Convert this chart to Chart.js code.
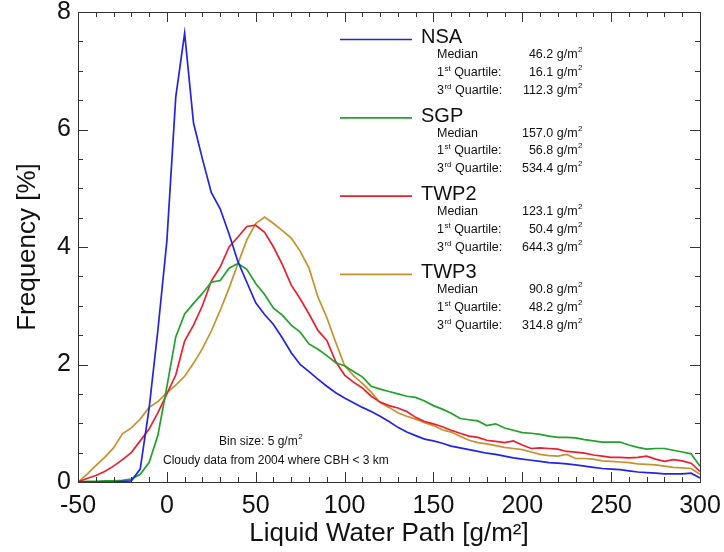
<!DOCTYPE html>
<html><head><meta charset="utf-8">
<script src="https://cdn.jsdelivr.net/npm/chart.js@4"></script>
<style>html,body{margin:0;padding:0;background:#fff}#wrap{width:724px;height:552px;position:relative}</style>
</head><body><div id="wrap"><canvas id="c" width="724" height="552"></canvas></div>
<script>
// Liquid water path bins (g/m2)
const lwpBins = [-50,-45,-40,-35,-30,-25,-20,-15,-10,-5,
  0,5,10,15,20,25,30,35,40,45,
  50,55,60,65,70,75,80,85,90,95,
  100,105,110,115,120,125,130,135,140,145,
  150,155,160,165,170,175,180,185,190,195,
  200,205,210,215,220,225,230,235,240,245,
  250,255,260,265,270,275,280,285,290,295,
  300];
// Frequency [%]
const nsaFreq = [0,0,0,0,0,0.01,0.02,0.22,1.25,2.6,
  4.1,6.55,7.64,6.11,5.5,4.93,4.65,4.22,3.75,3.4,
  3.05,2.85,2.68,2.45,2.2,2.0,1.88,1.75,1.63,1.52,
  1.43,1.35,1.27,1.2,1.12,1.03,0.93,0.85,0.79,0.73,
  0.70,0.66,0.61,0.58,0.55,0.52,0.49,0.47,0.44,0.41,
  0.39,0.37,0.35,0.33,0.32,0.31,0.29,0.27,0.25,0.23,
  0.22,0.21,0.19,0.17,0.16,0.15,0.14,0.14,0.14,0.15,
  0.07];
const sgpFreq = [0,0.01,0.01,0.02,0.02,0.03,0.05,0.13,0.33,0.8,
  1.62,2.47,2.86,3.04,3.21,3.40,3.43,3.64,3.72,3.62,
  3.38,3.19,2.96,2.84,2.67,2.55,2.35,2.26,2.15,2.03,
  1.98,1.88,1.79,1.63,1.58,1.54,1.50,1.46,1.44,1.38,
  1.30,1.24,1.17,1.08,1.06,1.04,0.96,0.99,0.92,0.88,
  0.84,0.83,0.81,0.78,0.76,0.76,0.75,0.72,0.70,0.68,
  0.68,0.68,0.63,0.59,0.56,0.57,0.57,0.54,0.51,0.48,
  0.27];
const twp2Freq = [0,0.06,0.11,0.18,0.27,0.38,0.5,0.7,0.9,1.18,
  1.5,1.82,2.4,2.67,3.0,3.42,3.66,4.0,4.17,4.35,
  4.37,4.25,4.0,3.7,3.35,3.12,2.86,2.58,2.41,2.05,
  1.82,1.70,1.60,1.46,1.36,1.30,1.26,1.20,1.10,1.03,
  0.99,0.94,0.88,0.83,0.78,0.76,0.71,0.69,0.67,0.70,
  0.63,0.57,0.58,0.57,0.56,0.52,0.51,0.49,0.46,0.44,
  0.42,0.42,0.41,0.42,0.44,0.39,0.35,0.38,0.36,0.32,
  0.18];
const twp3Freq = [0,0.13,0.28,0.42,0.58,0.82,0.92,1.07,1.27,1.37,
  1.52,1.65,1.80,2.02,2.27,2.57,2.92,3.30,3.72,4.12,
  4.40,4.51,4.40,4.28,4.15,3.93,3.64,3.15,2.80,2.38,
  1.98,1.81,1.68,1.53,1.35,1.27,1.18,1.12,1.07,1.01,
  0.96,0.89,0.85,0.78,0.71,0.67,0.65,0.62,0.59,0.57,
  0.55,0.51,0.47,0.45,0.44,0.47,0.40,0.40,0.39,0.36,
  0.35,0.34,0.33,0.31,0.30,0.29,0.27,0.25,0.24,0.23,
  0.13];

const siteNames = ['NSA','SGP','TWP2','TWP3'];
const siteColors = ['#2323e4','#22a12a','#ea2030','#c9912e'];
const medianVals = ['46.2','157.0','123.1','90.8'];
const q1Vals = ['16.1','56.8','50.4','48.2'];
const q3Vals = ['112.3','534.4','644.3','314.8'];
const xTickValues = [-50,0,50,100,150,200,250,300];
const yTickValues = [0,2,4,6,8];
const noteLines = ['Bin size: 5 g/m','Cloudy data from 2004 where CBH < 3 km'];

const FONT = '"Liberation Sans", Arial, Helvetica, sans-serif';
const seriesList = [nsaFreq, sgpFreq, twp2Freq, twp3Freq];

const datasets = seriesList.map((s, i) => ({
  label: siteNames[i],
  data: lwpBins.map((x, k) => ({x: x, y: s[k]})),
  borderColor: siteColors[i],
  backgroundColor: siteColors[i],
  borderWidth: 1.7,
  pointRadius: 0,
  tension: 0,
  fill: false
}));

function drawSup(ctx, x, y, base, sup, align, baseFont, supFont) {
  ctx.font = baseFont;
  const wb = ctx.measureText(base).width;
  ctx.font = supFont;
  const ws = ctx.measureText(sup).width;
  let x0 = align === 'right' ? x - wb - ws : x;
  ctx.textAlign = 'left';
  ctx.font = baseFont;
  ctx.fillText(base, x0, y);
  ctx.font = supFont;
  ctx.fillText(sup, x0 + wb + 0.5, y - 6);
}

const framePlugin = {
  id: 'frame',
  afterDatasetsDraw(chart) {
    const ctx = chart.ctx, ca = chart.chartArea;
    const xs = chart.scales.x, ys = chart.scales.y;
    ctx.save();
    ctx.strokeStyle = '#333';
    ctx.lineWidth = 1;
    ctx.beginPath();
    for (let v = -50; v <= 300; v += 10) {
      const px = Math.round(xs.getPixelForValue(v)) + 0.5;
      const len = (v % 50 === 0) ? 10 : 5;
      ctx.moveTo(px, ca.bottom); ctx.lineTo(px, ca.bottom - len);
      ctx.moveTo(px, ca.top); ctx.lineTo(px, ca.top + len);
    }
    for (let k = 0; k <= 16; k++) {
      const v = k * 0.5;
      const py = Math.round(ys.getPixelForValue(v)) + 0.5;
      const len = (k % 4 === 0) ? 10 : 5;
      ctx.moveTo(ca.left, py); ctx.lineTo(ca.left + len, py);
      ctx.moveTo(ca.right, py); ctx.lineTo(ca.right - len, py);
    }
    ctx.stroke();
    ctx.strokeRect(Math.round(ca.left) + 0.5, Math.round(ca.top) + 0.5,
      Math.round(ca.right - ca.left), Math.round(ca.bottom - ca.top));

    // legend with statistics
    const titleFont = '20px ' + FONT;
    const rowFont = '12.5px ' + FONT;
    const supFont = '8px ' + FONT;
    ctx.fillStyle = '#111';
    ctx.textBaseline = 'alphabetic';
    for (let i = 0; i < siteNames.length; i++) {
      const by = 43.3 + i * 78.3;
      ctx.strokeStyle = siteColors[i];
      ctx.lineWidth = 1.7;
      ctx.beginPath();
      ctx.moveTo(340, by - 3.8); ctx.lineTo(412, by - 3.8);
      ctx.stroke();
      ctx.font = titleFont;
      ctx.textAlign = 'left';
      ctx.fillText(siteNames[i], 421, by);
      const rows = [
        ['Median', '', '', medianVals[i]],
        ['1', 'st', ' Quartile:', q1Vals[i]],
        ['3', 'rd', ' Quartile:', q3Vals[i]]
      ];
      rows.forEach((r, j) => {
        const ry = by + 15 + j * 17.8;
        ctx.font = rowFont;
        ctx.textAlign = 'left';
        if (r[1]) {
          ctx.fillText(r[0], 437, ry);
          const w0 = ctx.measureText(r[0]).width;
          ctx.font = supFont;
          ctx.fillText(r[1], 437 + w0 + 0.5, ry - 5);
          const w1 = ctx.measureText(r[1]).width;
          ctx.font = rowFont;
          ctx.fillText(r[2], 437 + w0 + w1 + 0.5, ry);
        } else {
          ctx.fillText(r[0], 437, ry);
        }
        drawSup(ctx, 582, ry, r[3] + ' g/m', '2', 'right', rowFont, supFont);
      });
    }
    // notes
    const nf = '12px ' + FONT;
    drawSup(ctx, 219, 444.5, noteLines[0], '2', 'left', nf, supFont);
    ctx.font = nf;
    ctx.textAlign = 'left';
    ctx.fillText(noteLines[1], 163, 463.5);
    ctx.restore();
  }
};

new Chart(document.getElementById('c'), {
  type: 'line',
  data: { datasets: datasets },
  plugins: [framePlugin],
  options: {
    responsive: false,
    animation: false,
    devicePixelRatio: 1,
    layout: { padding: { top: 12, right: 24, left: 0, bottom: 0 } },
    plugins: { legend: { display: false }, tooltip: { enabled: false } },
    scales: {
      x: {
        type: 'linear', min: -50, max: 300,
        afterBuildTicks(s) { s.ticks = xTickValues.map(v => ({value: v})); },
        afterFit(s) { s.height = 70; s.paddingLeft = 0; s.paddingRight = 0; },
        grid: { display: false, drawTicks: false },
        border: { display: false },
        ticks: { font: { size: 25, family: FONT }, color: '#111', padding: 9, maxRotation: 0, autoSkip: false },
        title: { display: true, text: 'Liquid Water Path [g/m²]', font: { size: 26, family: FONT }, color: '#111', padding: { top: 0, bottom: 3 } }
      },
      y: {
        min: 0, max: 8,
        afterBuildTicks(s) { s.ticks = yTickValues.map(v => ({value: v})); },
        afterFit(s) { s.width = 78; s.paddingTop = 0; s.paddingBottom = 0; },
        grid: { display: false, drawTicks: false },
        border: { display: false },
        ticks: { font: { size: 25, family: FONT }, color: '#111', padding: 7, autoSkip: false },
        title: { display: true, text: 'Frequency [%]', font: { size: 26, family: FONT }, color: '#111', padding: { top: 12, bottom: 0 } }
      }
    }
  }
});
</script>
</body></html>
